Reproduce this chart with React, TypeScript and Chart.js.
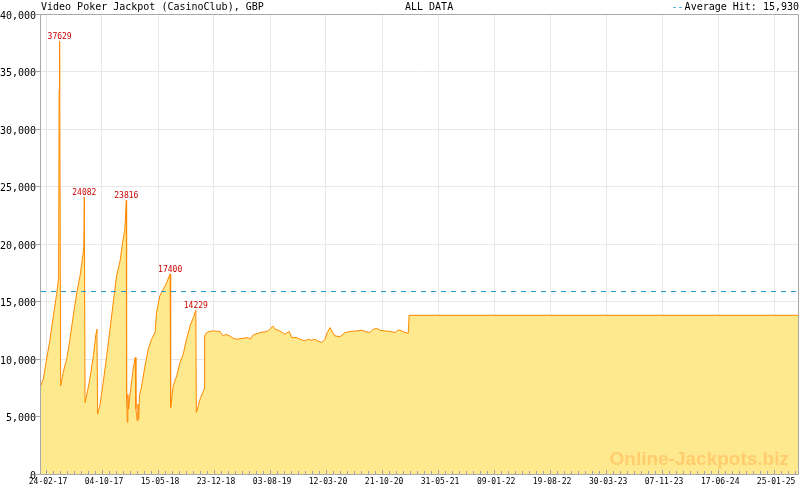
import React, { useEffect, useRef } from 'react';
import { Chart, registerables } from 'chart.js';

Chart.register(...registerables);

const TITLE = 'Video Poker Jackpot (CasinoClub), GBP';
const RANGE_LABEL = 'ALL DATA';
const LEGEND_LABEL = 'Average Hit: 15,930';
const WATERMARK = 'Online-Jackpots.biz';
const AVERAGE_HIT = 15930;

const X_MIN_DATE = '2017-01-31';
const X_MAX_DATE = '2025-04-30';
const X_TICK_LABELS = [
  '24-02-17', '04-10-17', '15-05-18', '23-12-18', '03-08-19', '12-03-20', '21-10-20',
  '31-05-21', '09-01-22', '19-08-22', '30-03-23', '07-11-23', '17-06-24', '25-01-25',
];
const Y_MIN = 0;
const Y_MAX = 40000;
const Y_STEP = 5000;

const dates = [
  '2017-02-01', '2017-02-13', '2017-02-24', '2017-03-12', '2017-03-25', '2017-04-07', '2017-04-15', '2017-04-17', '2017-04-19', '2017-04-23',
  '2017-05-03', '2017-05-17', '2017-05-30', '2017-06-12', '2017-06-26', '2017-07-09', '2017-07-20', '2017-07-24', '2017-07-26', '2017-07-29',
  '2017-08-04', '2017-08-17', '2017-08-31', '2017-09-11', '2017-09-14', '2017-09-17', '2017-09-26', '2017-10-09', '2017-10-23', '2017-11-05',
  '2017-11-18', '2017-12-01', '2017-12-15', '2017-12-25', '2018-01-03', '2018-01-09', '2018-01-10', '2018-01-13', '2018-01-15', '2018-01-18',
  '2018-01-23', '2018-02-05', '2018-02-13', '2018-02-16', '2018-02-21', '2018-02-24', '2018-02-27', '2018-03-02', '2018-03-11', '2018-03-24',
  '2018-04-06', '2018-04-19', '2018-05-03', '2018-05-09', '2018-05-22', '2018-06-05', '2018-06-18', '2018-07-02', '2018-07-04', '2018-07-08',
  '2018-07-14', '2018-07-28', '2018-08-10', '2018-08-23', '2018-09-05', '2018-09-19', '2018-10-02', '2018-10-12', '2018-10-14', '2018-10-22',
  '2018-10-29', '2018-11-11', '2018-11-14', '2018-11-16', '2018-11-24', '2018-12-16', '2019-01-16', '2019-01-29', '2019-02-07', '2019-02-24',
  '2019-03-10', '2019-03-23', '2019-04-18', '2019-05-08', '2019-05-15', '2019-05-28', '2019-06-24', '2019-07-21', '2019-08-03', '2019-08-14',
  '2019-08-23', '2019-09-11', '2019-10-01', '2019-10-18', '2019-10-28', '2019-11-17', '2019-11-30', '2019-12-20', '2020-01-02', '2020-01-15',
  '2020-01-28', '2020-02-10', '2020-02-24', '2020-03-08', '2020-03-17', '2020-03-28', '2020-04-08', '2020-04-17', '2020-05-07', '2020-05-27',
  '2020-06-16', '2020-07-12', '2020-08-02', '2020-08-14', '2020-09-03', '2020-09-16', '2020-09-30', '2020-10-13', '2020-11-02', '2020-11-22',
  '2020-12-11', '2020-12-25', '2021-01-07', '2021-01-20', '2021-02-02', '2021-02-05', '2025-04-30',
];

const values = [
  7550, 8250, 9700, 11720, 13740, 15620, 17100, 33400, 37629, 7660,
  8830, 9980, 11720, 13740, 15770, 17210, 18950, 19680, 24082, 6220,
  6800, 8250, 10270, 12300, 12590, 5210, 5930, 7960, 10270, 12590,
  14900, 17210, 18510, 20110, 21270, 23816, 6510, 4490, 6940, 5640,
  6800, 9110, 10130, 5640, 4630, 6080, 4770, 6800, 7660, 9400,
  10850, 11720, 12300, 14040, 15480, 16060, 16640, 17400, 5790, 6510,
  7660, 8530, 9700, 10420, 11720, 12870, 13600, 14229, 5360, 5930,
  6510, 7230, 7380, 12000, 12300, 12440, 12390, 12000, 12150, 12000,
  11800, 11720, 11800, 11860, 11720, 12090, 12300, 12390, 12590, 12870,
  12590, 12440, 12150, 12390, 11860, 11860, 11720, 11570, 11720, 11630,
  11720, 11570, 11430, 11720, 12300, 12730, 12300, 12000, 11950, 12300,
  12390, 12440, 12500, 12390, 12300, 12590, 12650, 12500, 12440, 12390,
  12300, 12530, 12440, 12300, 12240, 13800, 13800,
];

const hitValues = [37629, 24082, 23816, 17400, 14229];

const DAY = 86400000;
const isoToDay = (iso: string) => {
  const [y, m, d] = iso.split('-').map(Number);
  return Date.UTC(y, m - 1, d) / DAY;
};
const labelToDay = (l: string) => {
  const [d, m, y] = l.split('-').map(Number);
  return Date.UTC(2000 + y, m - 1, d) / DAY;
};
const pad2 = (n: number) => (n < 10 ? '0' + n : '' + n);
const formatDay = (day: number) => {
  const dt = new Date(Math.round(day) * DAY);
  return pad2(dt.getUTCDate()) + '-' + pad2(dt.getUTCMonth() + 1) + '-' + pad2(dt.getUTCFullYear() % 100);
};
const formatThousands = (v: number) => String(v).replace(/\B(?=(\d{3})+(?!\d))/g, ',');

const MONO = '"DejaVu Sans Mono", monospace';
const FRAME = '#a9a9a9';
const TICK_COLOR = '#a2a2b4';
const GRID = '#e8e8e8';
const LINE = '#ff8800';
const FILL = '#ffe98f';
const AVG = '#2596d4';

const decorPlugin = {
  id: 'decor',
  afterDatasetsDraw(chart: any) {
    const { ctx, chartArea: a, scales } = chart;
    const xs = scales.x;
    const ys = scales.y;
    ctx.save();

    // watermark
    ctx.font = 'bold 19px "Liberation Sans", Arial, sans-serif';
    ctx.fillStyle = '#ffcc6e';
    ctx.textAlign = 'right';
    ctx.textBaseline = 'alphabetic';
    ctx.fillText(WATERMARK, a.right - 9, a.bottom - 9);

    // average hit dashed line (crisp)
    const ay = Math.round(ys.getPixelForValue(AVERAGE_HIT)) + 0.5;
    ctx.strokeStyle = AVG;
    ctx.lineWidth = 1;
    ctx.setLineDash([5, 5]);
    ctx.beginPath();
    ctx.moveTo(a.left + 1, ay);
    ctx.lineTo(a.right, ay);
    ctx.stroke();
    ctx.setLineDash([]);

    // minor / major tick marks pointing upward
    ctx.strokeStyle = TICK_COLOR;
    const majors = X_TICK_LABELS.map(labelToDay);
    const drawTick = (v: number, len: number) => {
      const px = Math.round(xs.getPixelForValue(v)) + 0.5;
      if (px < a.left + 1 || px > a.right) return;
      ctx.beginPath();
      ctx.moveTo(px, a.bottom);
      ctx.lineTo(px, a.bottom - len);
      ctx.stroke();
    };
    for (let i = 0; i < majors.length; i++) {
      drawTick(majors[i], 4);
      const next = i < majors.length - 1 ? majors[i + 1] : majors[i] + (majors[i] - majors[i - 1]);
      const step = (next - majors[i]) / 8;
      for (let k = 1; k < 8; k++) drawTick(majors[i] + k * step, 3);
      if (i === 0) {
        for (let k = 1; k < 8; k++) drawTick(majors[0] - k * step, 3);
      }
    }

    // frame
    ctx.strokeStyle = FRAME;
    ctx.beginPath();
    ctx.moveTo(a.left + 0.5, a.bottom + 0.5);
    ctx.lineTo(a.left + 0.5, a.top + 0.5);
    ctx.lineTo(a.right + 0.5, a.top + 0.5);
    ctx.lineTo(a.right + 0.5, a.bottom + 0.5);
    ctx.lineTo(a.left + 0.5, a.bottom + 0.5);
    ctx.stroke();

    // hit labels
    ctx.font = '8px ' + MONO;
    ctx.fillStyle = '#cc0000';
    ctx.textAlign = 'center';
    ctx.textBaseline = 'alphabetic';
    hitValues.forEach((hv) => {
      const idx = values.indexOf(hv);
      if (idx < 0) return;
      const px = xs.getPixelForValue(isoToDay(dates[idx]));
      const py = ys.getPixelForValue(hv);
      ctx.fillText(String(hv), px, py - 2);
    });

    // header texts
    ctx.font = '10px ' + MONO;
    ctx.fillStyle = '#000';
    ctx.textAlign = 'left';
    ctx.fillText(TITLE, 41, 10);
    ctx.fillText(RANGE_LABEL, 405, 10);
    ctx.textAlign = 'right';
    ctx.fillText(LEGEND_LABEL, 799, 10);
    const w = ctx.measureText(LEGEND_LABEL).width;
    ctx.fillStyle = AVG;
    ctx.fillText('--', 799 - w - 1, 10);

    ctx.restore();
  },
};

export default function App() {
  const ref = useRef<HTMLCanvasElement | null>(null);

  useEffect(() => {
    if (!ref.current) return;
    const xMin = isoToDay(X_MIN_DATE);
    const xMax = isoToDay(X_MAX_DATE);
    const points = dates.map((d, i) => ({ x: isoToDay(d), y: values[i] }));

    const chart = new Chart(ref.current, {
      type: 'line',
      data: {
        datasets: [
          {
            data: points,
            borderColor: LINE,
            backgroundColor: FILL,
            borderWidth: 1,
            pointRadius: 0,
            fill: 'origin',
            tension: 0,
          },
        ],
      },
      options: {
        responsive: false,
        animation: false,
        devicePixelRatio: 1,
        events: [],
        layout: { padding: { top: 14, right: 2, left: 0, bottom: 0 } },
        plugins: {
          legend: { display: false },
          tooltip: { enabled: false },
          title: { display: false },
        },
        scales: {
          x: {
            type: 'linear',
            min: xMin,
            max: xMax,
            afterFit: (s: any) => {
              s.height = 16;
            },
            afterBuildTicks: (s: any) => {
              s.ticks = X_TICK_LABELS.map((l) => ({ value: labelToDay(l) }));
            },
            grid: { color: GRID, drawTicks: false },
            border: { color: FRAME },
            ticks: {
              autoSkip: false,
              maxRotation: 0,
              padding: 3,
              labelOffset: 2,
              color: '#000',
              font: { family: MONO, size: 8 },
              callback: (v: any) => formatDay(Number(v)),
            },
          },
          y: {
            min: Y_MIN,
            max: Y_MAX,
            afterFit: (s: any) => {
              s.width = 40;
            },
            grid: { color: GRID, drawTicks: true, tickLength: 4, tickColor: FRAME },
            border: { color: FRAME },
            ticks: {
              stepSize: Y_STEP,
              padding: 0,
              labelOffset: 2,
              color: '#000',
              font: { family: MONO, size: 10 },
              callback: (v: any) => formatThousands(Number(v)),
            },
          },
        },
      },
      plugins: [decorPlugin],
    } as any);

    return () => chart.destroy();
  }, []);

  return (
    <div style={{ position: 'fixed', left: 0, top: 0, width: 800, height: 490, background: '#fff' }}>
      <canvas ref={ref} width={800} height={490} style={{ display: 'block', width: 800, height: 490 }} />
    </div>
  );
}
